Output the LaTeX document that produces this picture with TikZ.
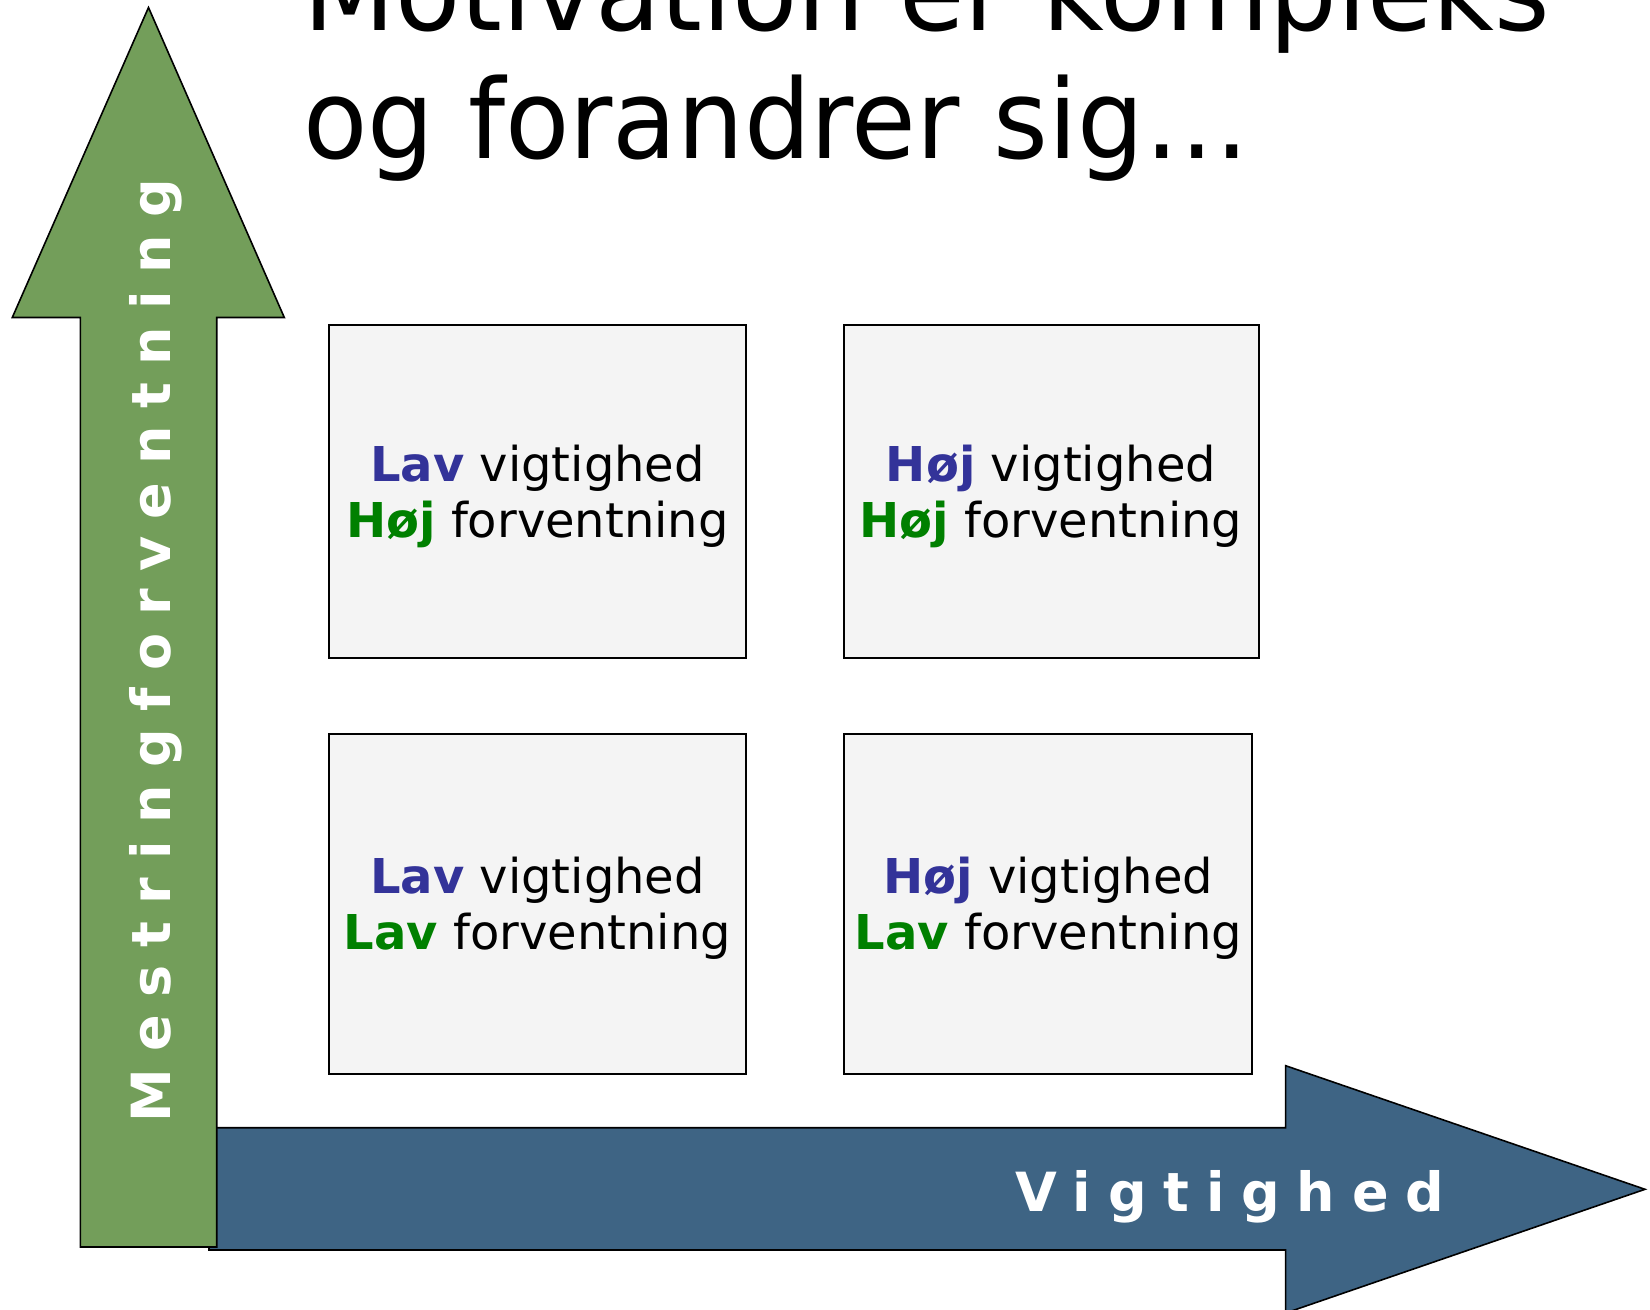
\documentclass[tikz,border=0pt]{standalone}
\usepackage{fontspec}
\setmainfont{DejaVu Sans}
\newfontfamily\axisfont[LetterSpace=31]{DejaVu Sans}
\newfontfamily\axisfontv[LetterSpace=32.5]{DejaVu Sans}
\definecolor{greenarrow}{RGB}{115,158,90}
\definecolor{bluearrow}{RGB}{62,100,132}
\definecolor{lowhigh}{RGB}{51,51,153}
\definecolor{expgreen}{RGB}{0,128,0}
\definecolor{boxfill}{RGB}{244,244,244}
\tikzset{
  quad/.style={draw=black, line width=1pt, fill=boxfill, inner sep=0pt},
  boxtext/.style={inner sep=0pt, anchor=base, font=\fontsize{24pt}{28pt}\selectfont},
  axislabel/.style={inner sep=0pt, text=white},
  titletext/.style={inner sep=0pt, anchor=base west, font=\fontsize{55pt}{64pt}\selectfont},
  arrowshape/.style={draw=black, line width=0.8pt, line join=miter}
}
\begin{document}
\begin{tikzpicture}[x=0.5pt,y=-0.5pt]
\useasboundingbox (0,0) rectangle (1650,1310);
\clip (0,0) rectangle (1650,1310);
\fill[white] (0,0) rectangle (1650,1310);

% horizontal axis arrow
\draw[arrowshape, fill=bluearrow] (209,1127.7) -- (1285.6,1127.7) -- (1285.6,1065.7) -- (1645,1189.3) -- (1285.6,1313) -- (1285.6,1250) -- (209,1250) -- cycle;
% vertical axis arrow
\draw[arrowshape, fill=greenarrow] (148.5,7.5) -- (284.3,317.5) -- (216.7,317.5) -- (216.7,1247) -- (80.3,1247) -- (80.3,317.5) -- (12.3,317.5) -- cycle;

\node[axislabel, anchor=base west, font=\axisfont\bfseries\fontsize{27pt}{30pt}\selectfont] (xlab) at (1015,1211) {Vigtighed};
\node[axislabel, anchor=base west, rotate=90, font=\axisfontv\bfseries\fontsize{27pt}{30pt}\selectfont] (ylab) at (170,1123) {Mestringforventning};

% title
\node[titletext, xscale=0.97] (title1) at (303,31) {Motivation er kompleks};
\node[titletext, xscale=0.957] (title2) at (303,159) {og forandrer sig…};

% quadrants
\node[quad, minimum width=208.35pt, minimum height=166.5pt] (tl) at (537.65,491.8) {};
\node[quad, minimum width=207.3pt, minimum height=166.5pt] (tr) at (1051.3,491.8) {};
\node[quad, minimum width=208.35pt, minimum height=170pt] (bl) at (537.65,903.7) {};
\node[quad, minimum width=204.15pt, minimum height=170pt] (br) at (1047.85,903.7) {};

\node[boxtext] (tl1) at (537.5,481.7) {\textbf{\textcolor{lowhigh}{Lav}} vigtighed};
\node[boxtext] (tl2) at (537.5,537.7) {\textbf{\textcolor{expgreen}{Høj}} forventning};
\node[boxtext] (tr1) at (1051,481.7) {\textbf{\textcolor{lowhigh}{Høj}} vigtighed};
\node[boxtext] (tr2) at (1051,537.7) {\textbf{\textcolor{expgreen}{Høj}} forventning};
\node[boxtext] (bl1) at (537.5,893.3) {\textbf{\textcolor{lowhigh}{Lav}} vigtighed};
\node[boxtext] (bl2) at (537.5,949.3) {\textbf{\textcolor{expgreen}{Lav}} forventning};
\node[boxtext] (br1) at (1048.3,893.3) {\textbf{\textcolor{lowhigh}{Høj}} vigtighed};
\node[boxtext] (br2) at (1048.3,949.3) {\textbf{\textcolor{expgreen}{Lav}} forventning};
\end{tikzpicture}
\end{document}
